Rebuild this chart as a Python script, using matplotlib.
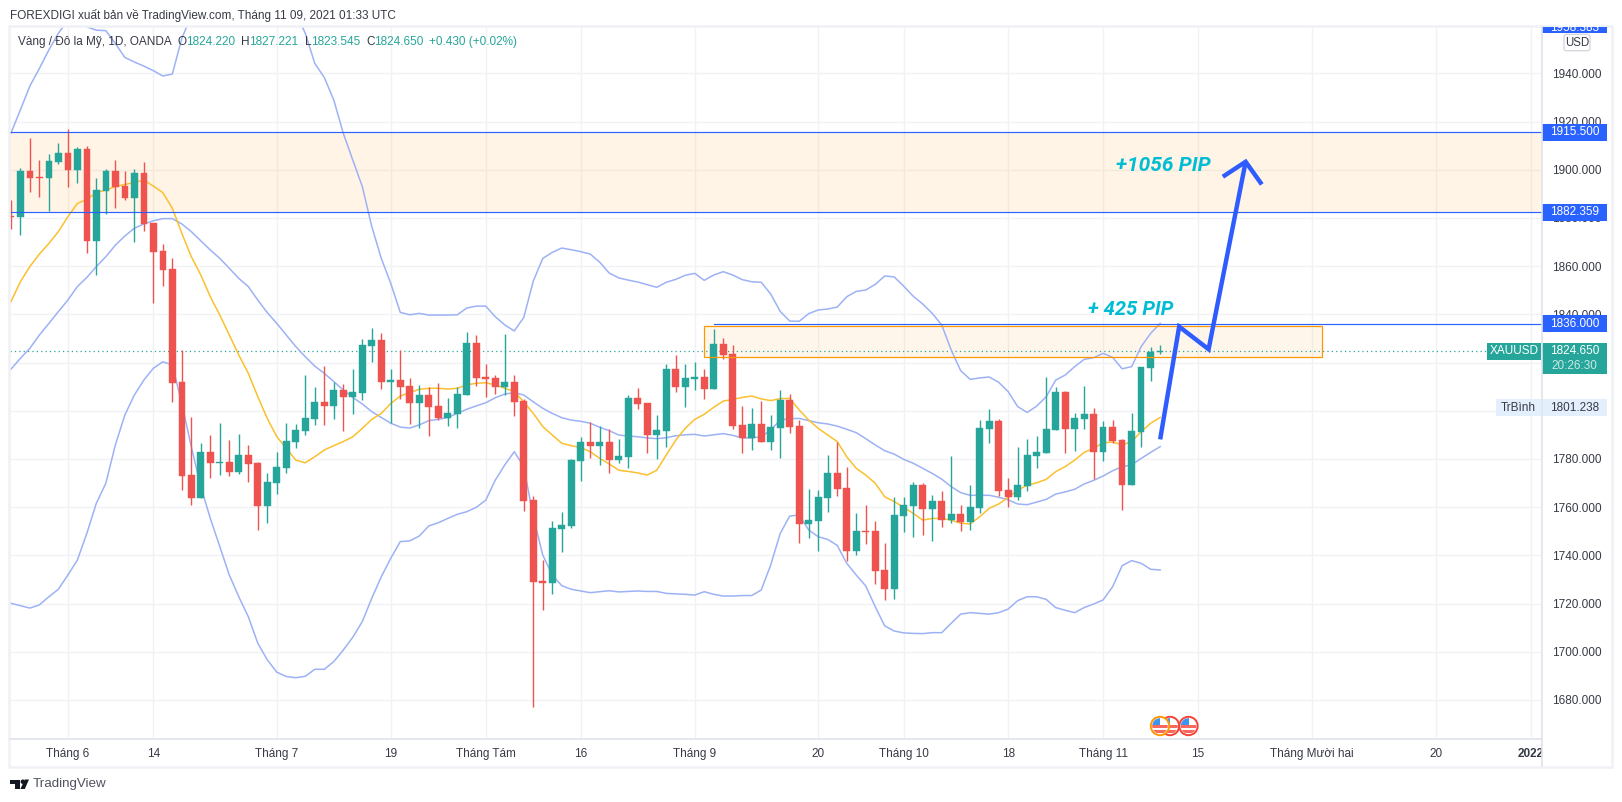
import matplotlib
matplotlib.use('Agg')
import matplotlib.pyplot as plt
from matplotlib.patches import Rectangle, Circle, Polygon, FancyBboxPatch
from matplotlib.transforms import blended_transform_factory, Bbox, TransformedBbox

plt.rcParams['font.family'] = ['Liberation Sans', 'DejaVu Sans']

# candles, oldest first
opens = [1881, 1880.4, 1899.5, 1897, 1896.7, 1903.2, 1906.9, 1899.9, 1908.6, 1870.5,
         1891.2, 1899.5, 1893.2, 1888.3, 1898.6, 1877.9, 1866.2, 1858.8, 1811.9, 1773.3,
         1763.8, 1782.9, 1778.3, 1778.7, 1774.6, 1781.6, 1778.3, 1760.5, 1770, 1776.2,
         1787, 1791.6, 1796.6, 1803.6, 1802, 1808.6, 1805.7, 1807.3, 1826.8, 1829.3,
         1811.9, 1812.7, 1810.2, 1803.2, 1806.5, 1802, 1797, 1798.6, 1806.5, 1828.1,
         1814, 1813.6, 1809.8, 1811.9, 1804, 1762.9, 1729.3, 1728.5, 1750.9, 1752.2,
         1779.1, 1787, 1785.4, 1787, 1779.5, 1780.8, 1805.3, 1803.2, 1789.9, 1791.6,
         1817.3, 1809.8, 1813.1, 1814, 1809, 1827.7, 1823.5, 1794, 1788.7, 1794.5,
         1787, 1792.8, 1804.4, 1793.6, 1753, 1754.2, 1763.8, 1774.2, 1767.9, 1741.8,
         1750.1, 1750.1, 1733.9, 1726, 1756.3, 1760.5, 1769.2, 1759.2, 1762.5, 1754.6,
         1757.1, 1753.8, 1759.6, 1792.4, 1795.7, 1767.1, 1764.2, 1768.8, 1781.2, 1782.4,
         1792, 1807.8, 1792.4, 1796.6, 1798.6, 1782.9, 1793.2, 1787.9, 1769.2, 1791.2,
         1817.7, 1824.22]
highs = [1887.4, 1900.6, 1913.1, 1904, 1906.5, 1911, 1916.9, 1909.3, 1909.8, 1896.6,
         1900.3, 1904, 1899.5, 1900.3, 1903.2, 1877.9, 1869.2, 1863.4, 1825.2, 1797.4,
         1786.6, 1789.9, 1794.9, 1787.8, 1790.3, 1785.8, 1778.7, 1774.2, 1782.9, 1794.9,
         1794.5, 1814.8, 1810, 1818.6, 1812, 1811, 1817.3, 1829.6, 1834.3, 1832.2,
         1817.3, 1825.2, 1813.6, 1810.7, 1810, 1811.4, 1805.3, 1809.7, 1832.7, 1831.4,
         1819.4, 1814.8, 1831.8, 1814.8, 1804.8, 1764.6, 1738, 1754.2, 1758, 1780,
         1789.1, 1795.3, 1793.6, 1792.4, 1788.2, 1806.5, 1809.4, 1803.2, 1798.2, 1819.4,
         1823.1, 1819.4, 1820.2, 1817.3, 1833.9, 1830.2, 1827.3, 1801.9, 1801.1, 1804,
         1798.2, 1808.6, 1806.9, 1796.1, 1767.5, 1767.1, 1781.6, 1787, 1776.6, 1757.5,
         1760.9, 1754.2, 1745.1, 1764.2, 1764.2, 1770.4, 1770, 1765, 1766.7, 1781.2,
         1760.9, 1769.2, 1796.1, 1800.7, 1796.6, 1772.1, 1785, 1788.3, 1789.5, 1814,
         1809.8, 1808.2, 1799, 1810.2, 1801.1, 1795.7, 1796.1, 1788.3, 1799, 1818.3,
         1826.4, 1827.221]
lows = [1875.4, 1872.9, 1890.7, 1888.7, 1882.7, 1902.5, 1892.9, 1894.5, 1865.6, 1856.3,
        1881.7, 1884.1, 1887.4, 1870, 1874.6, 1844.7, 1851.7, 1803.6, 1767.1, 1760.9,
        1763.8, 1772, 1773.3, 1772.9, 1773.7, 1770.4, 1750.5, 1753.4, 1765.4, 1774.2,
        1784.5, 1789.9, 1794.1, 1794.1, 1796.6, 1791.6, 1798.6, 1804.4, 1820.2, 1809,
        1794.9, 1804.9, 1794.5, 1792.8, 1789.5, 1796.1, 1793.7, 1792.8, 1806.5, 1810.2,
        1805.7, 1807, 1806.5, 1797.8, 1758.4, 1677.2, 1717.3, 1723.9, 1741.4, 1751.3,
        1770.8, 1780.4, 1777.5, 1774.2, 1778.3, 1776.2, 1800.7, 1782.4, 1780, 1784.9,
        1807.8, 1801.5, 1808.6, 1804.9, 1809, 1821.4, 1792.4, 1782.4, 1783.7, 1787,
        1783.7, 1780.4, 1790.7, 1745.1, 1747.2, 1741.8, 1758, 1764.6, 1737.6, 1740.1,
        1744.7, 1728.1, 1721.4, 1721.9, 1749.7, 1747.6, 1748.4, 1745.9, 1751.7, 1753.4,
        1750.1, 1750.5, 1757.6, 1786.6, 1764.6, 1760, 1763, 1766.7, 1776.2, 1782.4,
        1792, 1782.4, 1783.3, 1792.4, 1771.7, 1779.1, 1786.6, 1758.8, 1769.2, 1785,
        1812.3, 1823.545]
closes = [1880.4, 1899.5, 1896.7, 1896.6, 1903.6, 1906.9, 1899.9, 1908.6, 1870.5, 1891.6,
          1899.5, 1892.8, 1888.3, 1898.6, 1877.5, 1865.8, 1858.4, 1811.5, 1772.9, 1763.8,
          1782.9, 1778.3, 1778.7, 1774.6, 1781.6, 1777.9, 1760.5, 1770.4, 1776.6, 1787.4,
          1792, 1797, 1803.6, 1802, 1808.6, 1805.7, 1807.8, 1827.3, 1829.3, 1811.9,
          1812.7, 1809.8, 1803.2, 1806.5, 1801.5, 1797, 1799, 1806.9, 1828.1, 1813.6,
          1813.2, 1809.8, 1811.9, 1803.6, 1762.5, 1728.9, 1728.5, 1751.3, 1752.6, 1779.5,
          1787, 1785.4, 1787, 1779.5, 1781.2, 1805.3, 1802.8, 1789.9, 1792, 1817.3,
          1809.8, 1813.6, 1814, 1809, 1827.7, 1823.1, 1793.6, 1788.7, 1794.5, 1787,
          1793.2, 1804.4, 1793.2, 1753, 1754.6, 1764.2, 1774.2, 1767.5, 1741.8, 1750.1,
          1749.7, 1733.5, 1726, 1756.7, 1760.9, 1769.2, 1759.2, 1762.5, 1754.6, 1757.1,
          1753.8, 1760, 1792.8, 1795.7, 1766.7, 1764.2, 1769.2, 1781.6, 1782.9, 1792.4,
          1807.8, 1792.4, 1797, 1798.6, 1782.9, 1793.2, 1787.4, 1769.2, 1791.6, 1818.1,
          1824.4, 1824.65]

# bollinger bands and the moving average, one value per candle
bb_upper = [1915.1, 1924.8, 1934.7, 1942, 1949.7, 1956.6, 1962.1, 1964, 1959.3, 1957.9,
            1957.7, 1952.4, 1946.6, 1944.7, 1943, 1941.1, 1938.9, 1939.7, 1954.5, 1964,
            1972, 1980, 1985, 1988, 1990, 1990, 1988, 1984, 1978, 1972,
            1965, 1956.6, 1944.1, 1938.3, 1928.9, 1915.1, 1904, 1893, 1876.4, 1863.2,
            1852.8, 1840.8, 1839.8, 1840.4, 1839.7, 1839.7, 1839.7, 1839.8, 1842.6, 1843.4,
            1843.4, 1839, 1835.6, 1833.1, 1838.7, 1853.8, 1863.2, 1865.7, 1867.5, 1866.8,
            1866, 1865, 1861.6, 1857.1, 1855.1, 1854.2, 1853.4, 1852.3, 1851.2, 1853.3,
            1854.5, 1856.2, 1857, 1854.1, 1856.3, 1857.7, 1856.3, 1854.4, 1853.5, 1853.3,
            1848.4, 1841.2, 1837.2, 1837.1, 1840.3, 1841.8, 1842.2, 1843, 1847.3, 1849.5,
            1850.1, 1852.4, 1855.9, 1855.5, 1851.7, 1847.5, 1844.3, 1840.4, 1835.6, 1825.2,
            1816.6, 1813, 1813.6, 1814, 1811.8, 1807.9, 1801.7, 1799.3, 1801.9, 1805.8,
            1812.7, 1814.8, 1818.3, 1821.3, 1822, 1823.8, 1822.1, 1817.4, 1818.3, 1826.6,
            1832.1, 1836.2]
bb_middle = [1817.2, 1821.7, 1825.9, 1831.4, 1836.2, 1841.1, 1845.9, 1851.5, 1855.3, 1859.8,
             1863.9, 1868.7, 1872.5, 1875.7, 1877.5, 1878.8, 1879.7, 1879.7, 1877.5, 1874.3,
             1870.5, 1866.7, 1863.2, 1859.1, 1854.9, 1851.5, 1845.9, 1840.7, 1836.2, 1831.4,
             1826.6, 1822.4, 1818.5, 1815.5, 1812.1, 1808.6, 1805.5, 1802.8, 1799.6, 1797.2,
             1794.8, 1793.2, 1792.8, 1794.1, 1795.9, 1796.4, 1797.2, 1798.9, 1800.6, 1802,
             1803.3, 1805.4, 1806.9, 1807.5, 1806.5, 1803.7, 1801, 1798.9, 1797.1, 1796.1,
             1795.6, 1794.8, 1793.1, 1791.7, 1789.9, 1789.5, 1789.2, 1788.7, 1788.4, 1788.8,
             1789.6, 1790, 1790.2, 1789.5, 1790, 1790.5, 1789.8, 1788.7, 1788.7, 1789.2,
             1792, 1796.1, 1796.7, 1796.8, 1795.9, 1795, 1794.5, 1793.6, 1792.3, 1790.9,
             1788.4, 1785.8, 1783.4, 1782, 1779.8, 1778.2, 1776.1, 1774, 1771.6, 1768.5,
             1766, 1764.9, 1764.9, 1764.9, 1764.1, 1763, 1761.3, 1761, 1762.1, 1763.2,
             1765.4, 1766.3, 1767.4, 1769.6, 1771.1, 1772.9, 1775.1, 1776.8, 1777.5, 1780.2,
             1782.7, 1785.1]
bb_lower = [1720.1, 1719.1, 1718.1, 1719.4, 1722.8, 1725.9, 1731.8, 1738, 1749.1, 1761.6,
            1769.9, 1785.8, 1798.2, 1806.5, 1812.7, 1817.6, 1820.3, 1819, 1803, 1785,
            1768.5, 1755.3, 1743.6, 1731.8, 1722.8, 1714.5, 1703.5, 1696.6, 1691.5, 1689.7,
            1689.2, 1689.8, 1692.7, 1692.7, 1695.9, 1700.7, 1706, 1712.5, 1722.2, 1731.1,
            1738.8, 1745.7, 1746, 1748, 1752.2, 1753.5, 1755.3, 1757, 1758.1, 1759.9,
            1762.9, 1771.2, 1777.5, 1783, 1776.8, 1756, 1740.1, 1731.8, 1727.4, 1725.9,
            1725.2, 1724.5, 1724.9, 1725.3, 1724.8, 1725, 1725.2, 1725, 1725, 1724.2,
            1724, 1723.8, 1723.5, 1724.9, 1723.8, 1723.1, 1723.1, 1723.3, 1723.3, 1725.6,
            1736, 1749.1, 1756.3, 1756.7, 1750.5, 1747.7, 1746.6, 1744.1, 1736.7, 1731.8,
            1727.3, 1718.7, 1710.7, 1708.6, 1707.8, 1707.6, 1707.5, 1707.9, 1707.9, 1711.8,
            1715.6, 1716.2, 1715.9, 1715.6, 1716.2, 1717.7, 1721.2, 1722.8, 1722.8, 1721.7,
            1718.3, 1717.2, 1716.2, 1718.3, 1719.8, 1721.5, 1727, 1735.7, 1737.8, 1736.7,
            1734.2, 1733.9]
ma_line = [1845.2, 1853.5, 1859.8, 1865, 1869.4, 1874.3, 1880.5, 1886, 1887.7, 1890.5,
           1891.6, 1893, 1893.9, 1894.7, 1895.7, 1893.2, 1890.5, 1884, 1873.6, 1863.9,
           1856.3, 1847.3, 1839.7, 1831.4, 1823.1, 1815.5, 1805.8, 1796.8, 1789.2, 1784.4,
           1779.5, 1778.4, 1780.9, 1783.7, 1785.5, 1787.2, 1789.2, 1792.7, 1796.4, 1798.9,
           1803, 1806.1, 1807.5, 1808.9, 1809.3, 1809.3, 1809, 1809.3, 1810.7, 1811.4,
           1811.6, 1810.7, 1809.3, 1807.9, 1803.7, 1798.9, 1793.4, 1789.9, 1786.5, 1785.5,
           1784.7, 1783, 1780.2, 1777.9, 1775.3, 1774.8, 1774.2, 1773.3, 1775.3, 1781.6,
           1787.8, 1792.7, 1796.4, 1798.5, 1801.4, 1804, 1804.7, 1805.5, 1806.1, 1804.9,
           1804.2, 1805, 1805.1, 1800.3, 1796.1, 1792.7, 1789.9, 1787.2, 1780.9, 1776.1,
           1773.3, 1769.9, 1764.3, 1762.3, 1759.9, 1757.4, 1754.6, 1755.3, 1755.3, 1754.6,
           1753.3, 1753, 1756, 1759.5, 1761.3, 1764, 1767.1, 1769, 1770.1, 1771.5,
           1774.7, 1776.8, 1779.5, 1782.7, 1784.4, 1786.7, 1787, 1785.8, 1787.2, 1791.3,
           1794.8, 1797.2]

# axis labels
price_ticks = [1680, 1700, 1720, 1740, 1760, 1780, 1800, 1820, 1840, 1860, 1880, 1900, 1920, 1940]
date_ticks = [6, 15, 28, 40, 50, 60, 72, 85, 94, 105, 115, 125, 137, 150, 160]
date_labels = ['Tháng 6', '14', 'Tháng 7', '19', 'Tháng Tám', '16', 'Tháng 9', '20', 'Tháng 10',
               '18', 'Tháng 11', '15', 'Tháng Mười hai', '20', '2022']

# drawn levels and the hand drawn arrow
zone_top = 1915.5
zone_bottom = 1882.359
level_mid = 1836.0
last_price = 1824.65
box_left, box_right = 73, 138.05
box_top, box_bottom = 1835, 1822.2
arrow_x = [121, 123, 126.1, 130]
arrow_y = [1788.1, 1834.9, 1825.5, 1903.3]
head_x = [127.6, 130, 131.7]
head_y = [1897.1, 1903.3, 1893.9]

GREEN = '#26a69a'
RED = '#ef5350'
BLUE = '#2962ff'
BAND = '#9db2f5'
TEXT = '#363a45'
GRID = '#f1f2f5'
FS = 8.5
W, H = 1622, 802


def pane_rect(left, top, right, bottom):
    return [left / W, 1 - bottom / H, (right - left) / W, (bottom - top) / H]


fig = plt.figure(figsize=(W / 100, H / 100), dpi=100, facecolor='white')
ax = fig.add_axes(pane_rect(10, 27.3, 1542, 739.3))
ax.set_xlim(-0.09, 161.2)
ax.set_ylim(1663.65, 1959.1)
for s in ax.spines.values():
    s.set_visible(False)

ax.set_axisbelow(True)
ax.grid(True, color=GRID, lw=1.0)
ax.yaxis.tick_right()
ax.set_yticks(price_ticks)
ax.set_yticklabels(['%.3f' % p for p in price_ticks])
ax.set_xticks(date_ticks)
ax.set_xticklabels(date_labels)
ax.tick_params(axis='y', length=0, pad=7.4, labelsize=FS, labelcolor=TEXT)
ax.tick_params(axis='x', length=0, pad=6.2, labelsize=FS, labelcolor=TEXT)
# 2022 is bold and gets cut by the price scale
year_label = ax.get_xticklabels()[-1]
year_label.set_fontweight('bold')
year_label.set_clip_on(True)
year_label.set_clip_box(TransformedBbox(Bbox([[0, 0], [1542 / W, 1]]), fig.transFigure))

# zones
ax.axhspan(zone_bottom, zone_top, color='#ff9800', alpha=0.1, lw=0, zorder=1)
ax.axhline(zone_top, color=BLUE, lw=0.85, zorder=4)
ax.axhline(zone_bottom, color=BLUE, lw=0.85, zorder=4)
ax.add_patch(Rectangle((box_left, box_bottom), box_right - box_left, box_top - box_bottom,
                       facecolor='#ff9800', alpha=0.08, lw=0, zorder=1))
ax.add_patch(Rectangle((box_left, box_bottom), box_right - box_left, box_top - box_bottom,
                       fill=False, edgecolor='#ff9800', lw=0.9, zorder=4))
ax.plot([74, 162], [level_mid, level_mid], color=BLUE, lw=0.85, zorder=4)
ax.axhline(last_price, color=GREEN, lw=0.9, ls=(0, (1, 2.5)), zorder=1.5)

# indicators
xs = list(range(len(closes)))
ax.plot(xs, bb_upper, color=BAND, lw=1.1, zorder=2)
ax.plot(xs, bb_middle, color=BAND, lw=1.1, zorder=2)
ax.plot(xs, bb_lower, color=BAND, lw=1.1, zorder=2)
ax.plot(xs, ma_line, color='#fbc02d', lw=1.1, zorder=2)

# candles
colors = [GREEN if c >= o else RED for o, c in zip(opens, closes)]
ax.vlines(xs, lows, highs, colors=colors, lw=1.0, zorder=3)
body_low = [min(o, c) for o, c in zip(opens, closes)]
body_h = [abs(o - c) for o, c in zip(opens, closes)]
ax.bar(xs, body_h, bottom=body_low, width=0.7, color=colors, edgecolor=colors, lw=0.3, zorder=3)

# arrow
ax.plot(arrow_x, arrow_y, color='#2f5cff', lw=3.2, solid_joinstyle='miter', solid_capstyle='butt', zorder=5)
ax.plot(head_x, head_y, color='#2f5cff', lw=3.2, solid_joinstyle='miter', solid_capstyle='butt', zorder=5)
ax.text(116.4, 1901.6, '+1056 PIP', color='#00bcd4', fontsize=15, fontstyle='italic', fontweight='bold',
        family='Roboto', va='center', ha='left', zorder=6)
ax.text(113.4, 1842, '+ 425 PIP', color='#00bcd4', fontsize=14.5, fontstyle='italic', fontweight='bold',
        family='Roboto', va='center', ha='left', zorder=6)

# labels on the price scale, x in axes fraction, y in price
tr = blended_transform_factory(ax.transAxes, ax.transData)
ax_w = 1542 - 10.0
ax_h = 712.0
unit = 295.45 / ax_h


def scale_box(price, label, face, color='white', left=1542, right=1606.7, h=17, fw='normal'):
    x0 = (left - 10) / ax_w
    x1 = (right - 10) / ax_w
    ax.add_patch(Rectangle((x0, price - h / 2 * unit), x1 - x0, h * unit, transform=tr, facecolor=face,
                           lw=0, clip_on=False, zorder=7))
    ax.text((x0 + x1) / 2, price, label, transform=tr, color=color, fontsize=FS, fontweight=fw,
            ha='center', va='center', clip_on=False, zorder=8)


scale_box(zone_top, '1915.500', BLUE)
scale_box(zone_bottom, '1882.359', BLUE)
scale_box(level_mid, '1836.000', BLUE)

x0 = (1542 - 10) / ax_w
x1 = (1606.7 - 10) / ax_w
ax.add_patch(Rectangle((x0, 1815.2), x1 - x0, 12.8, transform=tr, facecolor=GREEN, lw=0, clip_on=False, zorder=7))
ax.text((x0 + x1) / 2, last_price, '1824.650', transform=tr, color='white', fontsize=FS,
        ha='center', va='center', clip_on=False, zorder=8)
ax.text((x0 + x1) / 2, 1818.5, '20:26:30', transform=tr, color='#c9e9e6', fontsize=FS,
        ha='center', va='center', clip_on=False, zorder=8)
scale_box(last_price, 'XAUUSD', GREEN, left=1487.3, right=1541)
scale_box(1801.238, 'TrBình', '#e3effd', color=TEXT, left=1496, right=1541)
scale_box(1801.238, '1801.238', '#e3effd', color=TEXT)

# everything that sits outside the price and time scales, in pixels
chrome = fig.add_axes([0, 0, 1, 1], zorder=10)
chrome.set_xlim(0, W)
chrome.set_ylim(H, 0)
chrome.axis('off')
chrome.patch.set_visible(False)

chrome.add_patch(Rectangle((9, 26), 1603, 741, fill=False, edgecolor='#eff1f6', lw=1.8))
chrome.plot([10, 1542], [739.3, 739.3], color='#e0e3eb', lw=1.2)
chrome.plot([1542, 1542], [27, 766], color='#e0e3eb', lw=1.2)

chrome.text(10, 15, 'FOREXDIGI xuất bản về TradingView.com, Tháng 11 09, 2021 01:33 UTC', color=TEXT,
            fontsize=FS, va='center')

legend_y = 41.7
chrome.text(18, legend_y, 'Vàng / Đô la Mỹ, 1D, OANDA', color=TEXT, fontsize=FS, va='center')
for x, s in [(177.5, 'O'), (241, 'H'), (304.6, 'L'), (366, 'C')]:
    chrome.text(x, legend_y, s, color=TEXT, fontsize=FS, va='center')
for x, s in [(186, '1824.220'), (249, '1827.221'), (311, '1823.545'), (374, '1824.650'), (429, '+0.430 (+0.02%)')]:
    chrome.text(x, legend_y, s, color=GREEN, fontsize=FS, va='center')

# clipped blue label at the very top of the scale
top_box = Rectangle((1542, 27), 64.7, 6, facecolor=BLUE, lw=0)
chrome.add_patch(top_box)
top_txt = chrome.text(1574.3, 28, '1958.383', color='white', fontsize=FS, ha='center', va='center')
top_txt.set_clip_path(top_box)

chrome.add_patch(FancyBboxPatch((1564, 34.3), 26, 16.4, boxstyle='round,pad=0,rounding_size=2.5',
                                facecolor='white', edgecolor='#d6d8e0', lw=1))
chrome.text(1577, 42.8, 'USD', color=TEXT, fontsize=8.3, ha='center', va='center')

# event flags, last one on top
z = 3
for cx, edge in [(1170, '#f44336'), (1188.5, '#f44336'), (1160, '#ff9800')]:
    chrome.add_patch(Circle((cx, 726), 9.2, facecolor='white', edgecolor=edge, lw=1.4, zorder=z))
    disc = Circle((cx, 726), 7.8, transform=chrome.transData)
    for yy in [725, 730]:
        stripe = Rectangle((cx - 9, yy), 18, 2.6, facecolor='#f7685f', lw=0, zorder=z + 1)
        chrome.add_patch(stripe)
        stripe.set_clip_path(disc)
    canton = Rectangle((cx - 9, 717), 9.4, 8, facecolor='#3d94f0', lw=0, zorder=z + 2)
    chrome.add_patch(canton)
    canton.set_clip_path(disc)
    z += 3

# logo
chrome.add_patch(Polygon([(10, 779.5), (20, 779.5), (20, 789), (15, 789), (15, 784), (10, 784)], facecolor='#131722', lw=0))
chrome.add_patch(Circle((22.8, 781.7), 2.2, facecolor='#131722', lw=0))
chrome.add_patch(Polygon([(24.8, 779.5), (29, 779.5), (24.8, 789), (20.4, 789)], facecolor='#131722', lw=0))
chrome.text(33, 784, 'TradingView', color='#50535e', fontsize=9.6, va='center')

fig.savefig('out.png', dpi=100)
